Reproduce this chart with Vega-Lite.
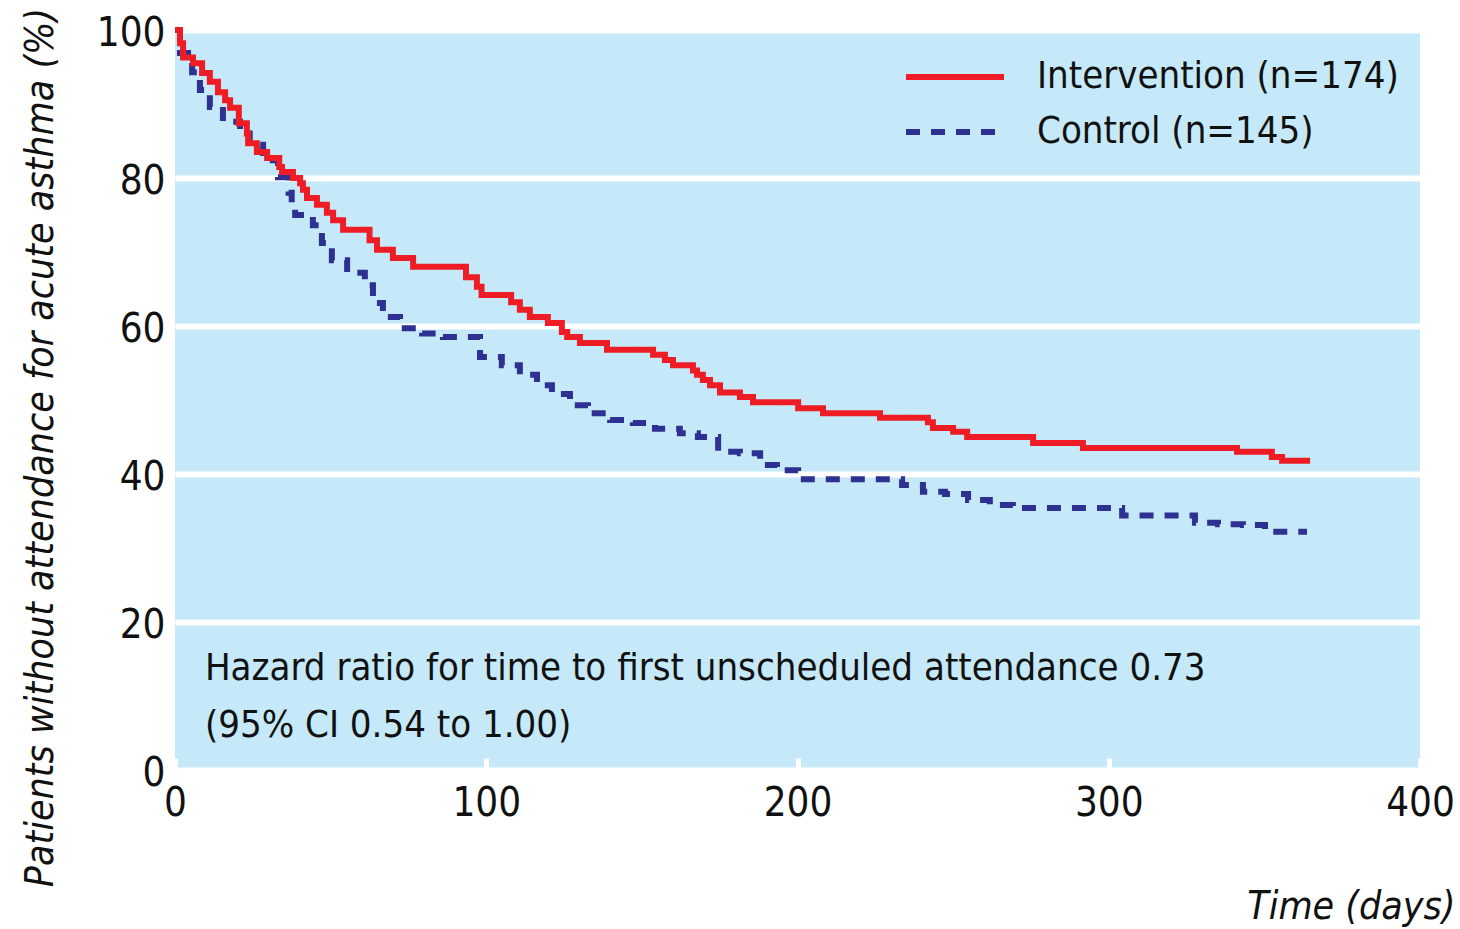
{
  "$schema": "https://vega.github.io/schema/vega-lite/v6.json",
  "width": 1245,
  "height": 740,
  "autosize": {"type": "none"},
  "padding": {"left": 175, "top": 30, "right": 40, "bottom": 159},
  "background": "white",
  "config": {
    "view": {"fill": "#C5E9F8", "stroke": null},
    "font": "Liberation Sans Narrow, DejaVu Sans Condensed, sans-serif"
  },
  "layer": [
    {
      "data": {"values": [
        {"group": "Control (n=145)", "day": 0, "pct": 100},
        {"group": "Control (n=145)", "day": 1.6, "pct": 96.9},
        {"group": "Control (n=145)", "day": 5.5, "pct": 94.3},
        {"group": "Control (n=145)", "day": 8, "pct": 91.9},
        {"group": "Control (n=145)", "day": 11.2, "pct": 89.6},
        {"group": "Control (n=145)", "day": 15.4, "pct": 87.6},
        {"group": "Control (n=145)", "day": 20.9, "pct": 86},
        {"group": "Control (n=145)", "day": 24, "pct": 84.5},
        {"group": "Control (n=145)", "day": 28.3, "pct": 82.4},
        {"group": "Control (n=145)", "day": 33.1, "pct": 80.1},
        {"group": "Control (n=145)", "day": 36.5, "pct": 78},
        {"group": "Control (n=145)", "day": 37.5, "pct": 76},
        {"group": "Control (n=145)", "day": 38.6, "pct": 75},
        {"group": "Control (n=145)", "day": 44.3, "pct": 73.6},
        {"group": "Control (n=145)", "day": 47.2, "pct": 71.2},
        {"group": "Control (n=145)", "day": 50.4, "pct": 68.9},
        {"group": "Control (n=145)", "day": 55.3, "pct": 67.2},
        {"group": "Control (n=145)", "day": 61, "pct": 65.5},
        {"group": "Control (n=145)", "day": 63.6, "pct": 63.1},
        {"group": "Control (n=145)", "day": 66.8, "pct": 61.2},
        {"group": "Control (n=145)", "day": 72.3, "pct": 59.7},
        {"group": "Control (n=145)", "day": 79.4, "pct": 59},
        {"group": "Control (n=145)", "day": 86.1, "pct": 58.5},
        {"group": "Control (n=145)", "day": 98, "pct": 55.8},
        {"group": "Control (n=145)", "day": 105, "pct": 54.7},
        {"group": "Control (n=145)", "day": 110.8, "pct": 53.4},
        {"group": "Control (n=145)", "day": 116.3, "pct": 52},
        {"group": "Control (n=145)", "day": 121.1, "pct": 50.8},
        {"group": "Control (n=145)", "day": 126.9, "pct": 49.3},
        {"group": "Control (n=145)", "day": 132.7, "pct": 48.2},
        {"group": "Control (n=145)", "day": 139.8, "pct": 47.3},
        {"group": "Control (n=145)", "day": 147.1, "pct": 46.9},
        {"group": "Control (n=145)", "day": 154.2, "pct": 46.1},
        {"group": "Control (n=145)", "day": 162.2, "pct": 45.5},
        {"group": "Control (n=145)", "day": 168, "pct": 45},
        {"group": "Control (n=145)", "day": 174.5, "pct": 43},
        {"group": "Control (n=145)", "day": 181.5, "pct": 42.8},
        {"group": "Control (n=145)", "day": 188, "pct": 41.2},
        {"group": "Control (n=145)", "day": 193.4, "pct": 40.5},
        {"group": "Control (n=145)", "day": 200.2, "pct": 39.3},
        {"group": "Control (n=145)", "day": 233.6, "pct": 38.5},
        {"group": "Control (n=145)", "day": 240.3, "pct": 37.6},
        {"group": "Control (n=145)", "day": 247.4, "pct": 37.3},
        {"group": "Control (n=145)", "day": 254.8, "pct": 36.5},
        {"group": "Control (n=145)", "day": 261.8, "pct": 35.8},
        {"group": "Control (n=145)", "day": 269.2, "pct": 35.4},
        {"group": "Control (n=145)", "day": 304.3, "pct": 34.4},
        {"group": "Control (n=145)", "day": 327.7, "pct": 33.4},
        {"group": "Control (n=145)", "day": 335.1, "pct": 33.2},
        {"group": "Control (n=145)", "day": 343.1, "pct": 33.1},
        {"group": "Control (n=145)", "day": 350.2, "pct": 32.2},
        {"group": "Control (n=145)", "day": 363.7, "pct": 32.2},
        {"group": "Intervention (n=174)", "day": 0, "pct": 100},
        {"group": "Intervention (n=174)", "day": 1.6, "pct": 98.2},
        {"group": "Intervention (n=174)", "day": 2.6, "pct": 96.3},
        {"group": "Intervention (n=174)", "day": 5.8, "pct": 95.5},
        {"group": "Intervention (n=174)", "day": 8.7, "pct": 94.2},
        {"group": "Intervention (n=174)", "day": 11.2, "pct": 93},
        {"group": "Intervention (n=174)", "day": 13.8, "pct": 91.6},
        {"group": "Intervention (n=174)", "day": 16.1, "pct": 90.5},
        {"group": "Intervention (n=174)", "day": 17.7, "pct": 89.5},
        {"group": "Intervention (n=174)", "day": 20.5, "pct": 87.4},
        {"group": "Intervention (n=174)", "day": 23.1, "pct": 86},
        {"group": "Intervention (n=174)", "day": 23.5, "pct": 84.7},
        {"group": "Intervention (n=174)", "day": 26.3, "pct": 83.5},
        {"group": "Intervention (n=174)", "day": 29.6, "pct": 82.7},
        {"group": "Intervention (n=174)", "day": 33.5, "pct": 81.5},
        {"group": "Intervention (n=174)", "day": 34.4, "pct": 80.8},
        {"group": "Intervention (n=174)", "day": 37.9, "pct": 80},
        {"group": "Intervention (n=174)", "day": 40.2, "pct": 79.3},
        {"group": "Intervention (n=174)", "day": 41.1, "pct": 78.4},
        {"group": "Intervention (n=174)", "day": 42.4, "pct": 77.3},
        {"group": "Intervention (n=174)", "day": 45.6, "pct": 76.4},
        {"group": "Intervention (n=174)", "day": 48.8, "pct": 75.3},
        {"group": "Intervention (n=174)", "day": 50.8, "pct": 74.3},
        {"group": "Intervention (n=174)", "day": 54, "pct": 73},
        {"group": "Intervention (n=174)", "day": 62.5, "pct": 71.6},
        {"group": "Intervention (n=174)", "day": 64.9, "pct": 70.3},
        {"group": "Intervention (n=174)", "day": 70, "pct": 69.2},
        {"group": "Intervention (n=174)", "day": 76.5, "pct": 68},
        {"group": "Intervention (n=174)", "day": 93.5, "pct": 66.6},
        {"group": "Intervention (n=174)", "day": 97, "pct": 65.3},
        {"group": "Intervention (n=174)", "day": 98.5, "pct": 64.2},
        {"group": "Intervention (n=174)", "day": 108, "pct": 63.2},
        {"group": "Intervention (n=174)", "day": 110.8, "pct": 62.2},
        {"group": "Intervention (n=174)", "day": 114, "pct": 61.2},
        {"group": "Intervention (n=174)", "day": 119.8, "pct": 60.4},
        {"group": "Intervention (n=174)", "day": 124.3, "pct": 59.2},
        {"group": "Intervention (n=174)", "day": 126, "pct": 58.5},
        {"group": "Intervention (n=174)", "day": 130.1, "pct": 57.7},
        {"group": "Intervention (n=174)", "day": 138.8, "pct": 56.8},
        {"group": "Intervention (n=174)", "day": 153.6, "pct": 56.1},
        {"group": "Intervention (n=174)", "day": 157.4, "pct": 55.4},
        {"group": "Intervention (n=174)", "day": 160, "pct": 54.7},
        {"group": "Intervention (n=174)", "day": 166.4, "pct": 54},
        {"group": "Intervention (n=174)", "day": 167.7, "pct": 53.4},
        {"group": "Intervention (n=174)", "day": 169.6, "pct": 52.7},
        {"group": "Intervention (n=174)", "day": 171.9, "pct": 52},
        {"group": "Intervention (n=174)", "day": 175.1, "pct": 51},
        {"group": "Intervention (n=174)", "day": 181.5, "pct": 50.4},
        {"group": "Intervention (n=174)", "day": 185.7, "pct": 49.7},
        {"group": "Intervention (n=174)", "day": 200.2, "pct": 48.9},
        {"group": "Intervention (n=174)", "day": 208.2, "pct": 48.2},
        {"group": "Intervention (n=174)", "day": 226.5, "pct": 47.6},
        {"group": "Intervention (n=174)", "day": 241.9, "pct": 47},
        {"group": "Intervention (n=174)", "day": 243.5, "pct": 46.2},
        {"group": "Intervention (n=174)", "day": 250, "pct": 45.7},
        {"group": "Intervention (n=174)", "day": 254.5, "pct": 45},
        {"group": "Intervention (n=174)", "day": 275.7, "pct": 44.2},
        {"group": "Intervention (n=174)", "day": 291.7, "pct": 43.5},
        {"group": "Intervention (n=174)", "day": 341.2, "pct": 43},
        {"group": "Intervention (n=174)", "day": 352.4, "pct": 42.3},
        {"group": "Intervention (n=174)", "day": 355.7, "pct": 41.8},
        {"group": "Intervention (n=174)", "day": 364.7, "pct": 41.8}
      ]},
      "mark": {"type": "line", "interpolate": "step-after", "strokeWidth": 6, "strokeCap": "butt"},
      "encoding": {
        "x": {
          "field": "day", "type": "quantitative",
          "scale": {"domain": [0, 400], "nice": false, "zero": false},
          "axis": {
            "title": "Time (days)",
            "values": [0, 100, 200, 300, 400],
            "grid": false, "domain": false, "labelFlush": false,
            "tickColor": "white", "tickSize": -12, "tickWidth": 5,
            "labelFontSize": 40, "labelPadding": 25, "labelColor": "#111111",
            "titleFontSize": 39, "titleFontStyle": "italic", "titleFontWeight": "normal", "titleColor": "#111111",
            "titleX": 1280, "titleY": 148, "titleAlign": "right", "titleBaseline": "alphabetic"
          }
        },
        "y": {
          "field": "pct", "type": "quantitative",
          "scale": {"domain": [0, 100], "nice": false},
          "axis": {
            "title": "Patients without attendance for acute asthma (%)",
            "values": [0, 20, 40, 60, 80, 100],
            "grid": true, "gridColor": "white", "gridWidth": 6, "gridOpacity": 1,
            "domain": false, "ticks": false, "labelFlush": false,
            "labelFontSize": 40, "labelPadding": 10, "labelColor": "#111111", "labelOffset": 3,
            "titleFontSize": 39, "titleFontStyle": "italic", "titleFontWeight": "normal", "titleColor": "#111111",
            "titleAngle": 270, "titleX": -135, "titleY": 417, "titleAlign": "center", "titleBaseline": "middle"
          }
        },
        "color": {
          "field": "group", "type": "nominal",
          "scale": {"domain": ["Intervention (n=174)", "Control (n=145)"], "range": ["#EE1C25", "#2E3192"]},
          "legend": {
            "title": null, "orient": "none", "legendX": 728, "legendY": 24,
            "symbolType": "stroke", "symbolSize": 9604, "symbolStrokeWidth": 6, "clipHeight": 46,
            "labelFontSize": 38, "labelOffset": 30, "labelLimit": 600, "rowPadding": 9, "labelColor": "#111111", "padding": 0
          }
        },
        "strokeDash": {
          "field": "group", "type": "nominal",
          "scale": {"domain": ["Intervention (n=174)", "Control (n=145)"], "range": [[1, 0], [14, 11]]},
          "legend": {
            "title": null, "orient": "none", "legendX": 728, "legendY": 24,
            "symbolType": "stroke", "symbolSize": 9604, "symbolStrokeWidth": 6, "clipHeight": 46,
            "labelFontSize": 38, "labelOffset": 30, "labelLimit": 600, "rowPadding": 9, "labelColor": "#111111", "padding": 0
          }
        }
      }
    },
    {
      "data": {"values": [
        {"note": "Hazard ratio for time to first unscheduled attendance 0.73\n(95% CI 0.54 to 1.00)"}
      ]},
      "mark": {"type": "text", "align": "left", "baseline": "alphabetic", "fontSize": 38, "lineBreak": "\n", "lineHeight": 57, "color": "#111111"},
      "encoding": {
        "x": {"datum": 9.6, "type": "quantitative"},
        "y": {"datum": 12.2, "type": "quantitative"},
        "text": {"field": "note"}
      }
    }
  ]
}
